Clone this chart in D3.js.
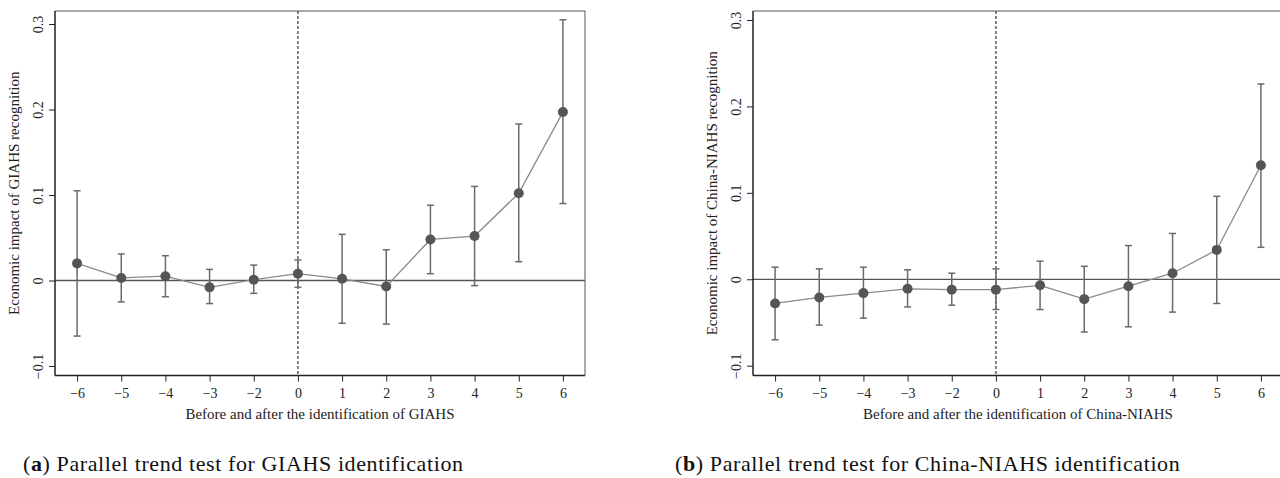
<!DOCTYPE html>
<html>
<head>
<meta charset="utf-8">
<script src="https://cdn.jsdelivr.net/npm/d3@7"></script>
<style>
  body { margin: 0; background: #fff; }
  svg { display: block; }
</style>
</head>
<body>
<div id="container"></div>
<script>
// periods relative to the identification year (no -1, it is the base year)
const periods = ["-6", "-5", "-4", "-3", "-2", "0", "1", "2", "3", "4", "5", "6"]
const yTicks = [-0.1, 0, 0.1, 0.2, 0.3]

// (a) GIAHS
const giahsEst = [0.020, 0.003, 0.005, -0.008, 0.001, 0.008, 0.002, -0.007, 0.048, 0.052, 0.102, 0.197]
const giahsLo = [-0.065, -0.025, -0.019, -0.027, -0.015, -0.008, -0.050, -0.051, 0.008, -0.006, 0.022, 0.090]
const giahsHi = [0.105, 0.031, 0.029, 0.013, 0.018, 0.024, 0.054, 0.036, 0.088, 0.110, 0.183, 0.305]

// (b) China-NIAHS
const niahsEst = [-0.028, -0.021, -0.016, -0.011, -0.012, -0.012, -0.007, -0.023, -0.008, 0.007, 0.034, 0.132]
const niahsLo = [-0.070, -0.053, -0.045, -0.032, -0.030, -0.035, -0.035, -0.061, -0.055, -0.038, -0.028, 0.037]
const niahsHi = [0.014, 0.012, 0.014, 0.011, 0.007, 0.012, 0.021, 0.015, 0.039, 0.053, 0.096, 0.226]

const width = 1280
const height = 478
const serif = '"Liberation Serif", "Times New Roman", serif'

const svg = d3.select("#container").append("svg")
    .attr("width", width)
    .attr("height", height)

function fmtTick(v) {
    if (v === 0) return "0"
    return d3.format(".1f")(v).replace("-", "\u2212")
}

function drawPanel(opt) {
    const { left, right, top, bottom, est, lo, hi, yLabel, xLabel, yTop, yBot } = opt
    const x = d3.scalePoint().domain(periods).range([left, right]).padding(0.5)
    const y = d3.scaleLinear().domain([-0.1, 0.3]).range([yBot, yTop])
    const g = svg.append("g")

    // frame (top and right)
    g.append("path")
        .attr("d", `M${left},${top}H${right}V${bottom}`)
        .attr("fill", "none")
        .attr("stroke", "#555")
        .attr("stroke-width", 1)

    // zero line
    g.append("line")
        .attr("x1", left).attr("x2", right)
        .attr("y1", y(0)).attr("y2", y(0))
        .attr("stroke", "#555").attr("stroke-width", 1.3)

    // dashed line at period 0
    g.append("line")
        .attr("x1", x("0")).attr("x2", x("0"))
        .attr("y1", top).attr("y2", bottom)
        .attr("stroke", "#444").attr("stroke-width", 1.3)
        .attr("stroke-dasharray", "3,2")

    const rows = periods.map((p, i) => ({ p, est: est[i], lo: lo[i], hi: hi[i] }))

    // confidence intervals
    const ci = g.append("g").attr("stroke", "#6a6a6a").attr("stroke-width", 1.5)
    rows.forEach((d) => {
        const cx = x(d.p)
        ci.append("line").attr("x1", cx).attr("x2", cx).attr("y1", y(d.lo)).attr("y2", y(d.hi))
        ci.append("line").attr("x1", cx - 3.5).attr("x2", cx + 3.5).attr("y1", y(d.lo)).attr("y2", y(d.lo))
        ci.append("line").attr("x1", cx - 3.5).attr("x2", cx + 3.5).attr("y1", y(d.hi)).attr("y2", y(d.hi))
    })

    // connecting line
    g.append("path")
        .datum(rows)
        .attr("fill", "none")
        .attr("stroke", "#8a8a8a")
        .attr("stroke-width", 1.3)
        .attr("d", d3.line().x((d) => x(d.p)).y((d) => y(d.est)))

    // point estimates
    g.selectAll("circle.pt").data(rows).join("circle")
        .attr("class", "pt")
        .attr("cx", (d) => x(d.p))
        .attr("cy", (d) => y(d.est))
        .attr("r", 5)
        .attr("fill", "#555")

    // axes
    const yAxis = d3.axisLeft(y).tickValues(yTicks).tickFormat(fmtTick).tickSize(6)
    const ya = g.append("g").attr("transform", `translate(${left},0)`).call(yAxis)
    ya.select(".domain").attr("d", `M0,${top}V${bottom}`).attr("stroke", "#222").attr("stroke-width", 1.5)
    ya.selectAll(".tick line").attr("stroke", "#222")
    ya.selectAll(".tick text")
        .attr("font-family", serif)
        .attr("font-size", 14)
        .attr("fill", "#222")
        .attr("text-anchor", "middle")
        .attr("transform", "rotate(-90)")
        .attr("x", 0)
        .attr("y", -12)
        .attr("dy", 0)

    const xAxis = d3.axisBottom(x).tickFormat((d) => d.replace("-", "\u2212")).tickSize(6).tickPadding(7)
    const xa = g.append("g").attr("transform", `translate(0,${bottom})`).call(xAxis)
    xa.select(".domain").attr("d", `M${left},0H${right}`).attr("stroke", "#222").attr("stroke-width", 1.5)
    xa.selectAll(".tick line").attr("stroke", "#222")
    xa.selectAll(".tick text")
        .attr("font-family", serif)
        .attr("font-size", 14)
        .attr("fill", "#222")

    // axis titles
    g.append("text")
        .attr("transform", `translate(${left - 39},${(top + bottom) / 2}) rotate(-90)`)
        .attr("text-anchor", "middle")
        .attr("dominant-baseline", "middle")
        .attr("font-family", serif)
        .attr("font-size", 15)
        .attr("fill", "#222")
        .text(yLabel)

    g.append("text")
        .attr("x", (left + right) / 2)
        .attr("y", bottom + 43)
        .attr("text-anchor", "middle")
        .attr("font-family", serif)
        .attr("font-size", 15)
        .attr("fill", "#222")
        .text(xLabel)
}

drawPanel({
    left: 55, right: 585, top: 11, bottom: 375.5,
    yTop: 24, yBot: 366,
    est: giahsEst, lo: giahsLo, hi: giahsHi,
    yLabel: "Economic impact of GIAHS recognition",
    xLabel: "Before and after the identification of GIAHS",
})

drawPanel({
    left: 753, right: 1283, top: 11, bottom: 375.5,
    yTop: 20, yBot: 365.7,
    est: niahsEst, lo: niahsLo, hi: niahsHi,
    yLabel: "Economic impact of China-NIAHS recognition",
    xLabel: "Before and after the identification of China-NIAHS",
})

// sub-captions
const captions = [
    { x: 23, tag: "a", text: "Parallel trend test for GIAHS identification" },
    { x: 675, tag: "b", text: "Parallel trend test for China-NIAHS identification" },
]
captions.forEach((c) => {
    const t = svg.append("text")
        .attr("x", c.x)
        .attr("y", 471)
        .attr("font-family", serif)
        .attr("font-size", 22)
        .attr("letter-spacing", 0.6)
        .attr("fill", "#111")
    t.append("tspan").text("(")
    t.append("tspan").attr("font-weight", "bold").text(c.tag)
    t.append("tspan").text(") " + c.text)
})
</script>
</body>
</html>
